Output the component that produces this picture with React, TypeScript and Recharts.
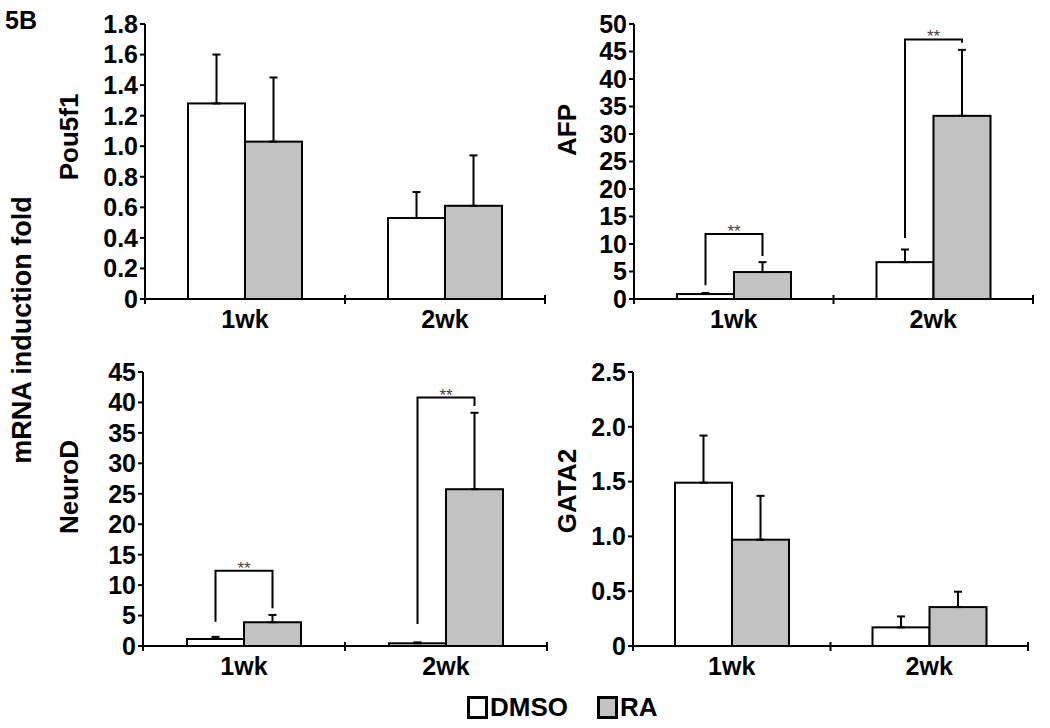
import React from 'react';
import { BarChart, Bar, XAxis, YAxis, ErrorBar } from 'recharts';

const categories = ['1wk', '2wk'];

// Pou5f1
const pouDmso = [1.28, 0.53];
const pouDmsoErr = [0.32, 0.17];
const pouRa = [1.03, 0.61];
const pouRaErr = [0.42, 0.33];
const pouTicks = [0, 0.2, 0.4, 0.6, 0.8, 1.0, 1.2, 1.4, 1.6, 1.8];

// AFP
const afpDmso = [0.9, 6.7];
const afpDmsoErr = [0.2, 2.3];
const afpRa = [4.9, 33.3];
const afpRaErr = [1.8, 12.0];
const afpTicks = [0, 5, 10, 15, 20, 25, 30, 35, 40, 45, 50];
// [bracket top, left leg bottom, right leg bottom]
const afpBrackets = [[11.8, 2.5, 7.8], [47.2, 11.1, 46.6]];

// NeuroD
const neuDmso = [1.15, 0.44];
const neuDmsoErr = [0.35, 0.16];
const neuRa = [3.9, 25.75];
const neuRaErr = [1.2, 12.55];
const neuTicks = [0, 5, 10, 15, 20, 25, 30, 35, 40, 45];
const neuBrackets = [[12.35, 4.0, 6.2], [40.8, 3.6, 39.4]];

// GATA2
const gataDmso = [1.49, 0.17];
const gataDmsoErr = [0.43, 0.10];
const gataRa = [0.97, 0.355];
const gataRaErr = [0.40, 0.14];
const gataTicks = [0, 0.5, 1.0, 1.5, 2.0, 2.5];

// category boundaries, where the x axis carries its tick marks
const edgeTicks = [0, 1, 2];

const FONT = '"Liberation Sans", Arial, sans-serif';
const tickStyle = { fill: '#000', fontSize: 25, fontWeight: 700, fontFamily: FONT };

const buildRows = (
  dmso: number[], dmsoErr: number[], ra: number[], raErr: number[], brackets?: number[][]
) =>
  categories.map((cat, i) => ({
    cat,
    edge: i + 0.5,
    dmso: dmso[i],
    dmsoErr: [0, dmsoErr[i]],
    ra: ra[i],
    raErr: [0, raErr[i]],
    bracket: brackets ? brackets[i] : null,
  }));

// RA bar plus the significance bracket spanning to the DMSO bar next to it
const RaShape = (props: any) => {
  const { x, y, width, height, payload } = props;
  const b = payload.bracket;
  let bracket = null;
  if (b && payload.ra > 0) {
    const zero = y + height;
    const k = height / payload.ra;
    const yv = (v: number) => zero - v * k;
    const lx = x - width / 2;
    const rx = x + width / 2;
    bracket = (
      <g>
        <polyline
          points={`${lx},${yv(b[1])} ${lx},${yv(b[0])} ${rx},${yv(b[0])} ${rx},${yv(b[2])}`}
          fill="none"
          stroke="#000"
          strokeWidth={2}
        />
        <text
          x={(lx + rx) / 2}
          y={yv(b[0]) + 3}
          textAnchor="middle"
          fontSize={17}
          fontFamily={FONT}
          fill="#444"
        >
          **
        </text>
      </g>
    );
  }
  return (
    <g>
      <rect x={x} y={y} width={width} height={height} fill="#c2c2c2" stroke="#000" strokeWidth={2} />
      {bracket}
    </g>
  );
};

const DmsoShape = (props: any) => {
  const { x, y, width, height } = props;
  return <rect x={x} y={y} width={width} height={height} fill="#fff" stroke="#000" strokeWidth={2} />;
};

// tick mark crossing the axis line
const EdgeTick = (props: any) => (
  <line x1={props.x} x2={props.x} y1={props.y - 5} y2={props.y + 4} stroke="#000" strokeWidth={2} />
);

interface PanelProps {
  rows: any[];
  ticks: number[];
  decimals: boolean;
  left: number;
  top: number;
  width: number;
  height: number;
  yAxisWidth: number;
  margin: { top: number; right: number; bottom: number };
}

const Panel: React.FC<PanelProps> = ({ rows, ticks, decimals, left, top, width, height, yAxisWidth, margin }) => {
  const fmt = (v: number) => (v === 0 ? '0' : decimals ? v.toFixed(1) : String(v));
  return (
    <div style={{ position: 'absolute', left, top }}>
      <BarChart
        width={width}
        height={height}
        data={rows}
        barGap={0}
        barSize={57}
        margin={{ top: margin.top, right: margin.right, bottom: margin.bottom - 2, left: 0 }}
      >
        <XAxis
          dataKey="cat"
          height={1}
          axisLine={{ stroke: '#000', strokeWidth: 2 }}
          tickLine={false}
          tickSize={0}
          tickMargin={11}
          tick={tickStyle}
        />
        <XAxis
          xAxisId="edge"
          dataKey="edge"
          type="number"
          domain={[0, 2]}
          ticks={edgeTicks}
          interval={0}
          height={1}
          tick={EdgeTick}
          tickSize={0}
          tickMargin={0}
          axisLine={false}
          tickLine={false}
        />
        <YAxis
          width={yAxisWidth}
          domain={[0, ticks[ticks.length - 1]]}
          ticks={ticks}
          interval={0}
          tickFormatter={fmt}
          tick={tickStyle}
          tickSize={5}
          tickMargin={2}
          axisLine={{ stroke: '#000', strokeWidth: 2 }}
          tickLine={{ stroke: '#000', strokeWidth: 2 }}
        />
        <Bar dataKey="dmso" shape={DmsoShape} isAnimationActive={false}>
          <ErrorBar dataKey="dmsoErr" width={4} stroke="#000" strokeWidth={2} />
        </Bar>
        <Bar dataKey="ra" shape={RaShape} isAnimationActive={false}>
          <ErrorBar dataKey="raErr" width={4} stroke="#000" strokeWidth={2} />
        </Bar>
      </BarChart>
    </div>
  );
};

const Rotated: React.FC<{ x: number; y: number; size: number; children: React.ReactNode }> = ({ x, y, size, children }) => (
  <div
    style={{
      position: 'absolute',
      left: x,
      top: y,
      transform: 'translate(-50%, -50%) rotate(-90deg)',
      whiteSpace: 'nowrap',
      fontSize: size,
      fontWeight: 700,
      lineHeight: 1,
    }}
  >
    {children}
  </div>
);

const LegendItem: React.FC<{ x: number; fill: string; label: string }> = ({ x, fill, label }) => (
  <div style={{ position: 'absolute', left: x, top: 694, display: 'flex', alignItems: 'center' }}>
    <div style={{ width: 15, height: 17, border: '3px solid #000', background: fill }} />
    <span style={{ fontSize: 26, fontWeight: 700, lineHeight: 1, marginLeft: 2 }}>{label}</span>
  </div>
);

export default function App() {
  return (
    <div
      style={{
        position: 'absolute',
        left: 0,
        top: 0,
        width: 1050,
        height: 728,
        background: '#fff',
        fontFamily: FONT,
        color: '#000',
        overflow: 'hidden',
      }}
    >
      <div style={{ position: 'absolute', left: 5, top: 8, fontSize: 25, fontWeight: 700, lineHeight: 1 }}>5B</div>
      <Rotated x={22} y={330} size={27}>mRNA induction fold</Rotated>

      <Rotated x={69} y={137} size={26}>Pou5f1</Rotated>
      <Rotated x={567} y={130} size={26}>AFP</Rotated>
      <Rotated x={69} y={487} size={26}>NeuroD</Rotated>
      <Rotated x={567} y={491} size={26}>GATA2</Rotated>

      <Panel
        rows={buildRows(pouDmso, pouDmsoErr, pouRa, pouRaErr)}
        ticks={pouTicks}
        decimals
        left={0}
        top={0}
        width={560}
        height={340}
        yAxisWidth={145}
        margin={{ top: 24, right: 15, bottom: 41 }}
      />
      <Panel
        rows={buildRows(afpDmso, afpDmsoErr, afpRa, afpRaErr, afpBrackets)}
        ticks={afpTicks}
        decimals={false}
        left={560}
        top={0}
        width={485}
        height={340}
        yAxisWidth={74}
        margin={{ top: 24, right: 12, bottom: 41 }}
      />
      <Panel
        rows={buildRows(neuDmso, neuDmsoErr, neuRa, neuRaErr, neuBrackets)}
        ticks={neuTicks}
        decimals={false}
        left={0}
        top={340}
        width={560}
        height={340}
        yAxisWidth={143}
        margin={{ top: 32, right: 13, bottom: 34 }}
      />
      <Panel
        rows={buildRows(gataDmso, gataDmsoErr, gataRa, gataRaErr)}
        ticks={gataTicks}
        decimals
        left={560}
        top={340}
        width={480}
        height={340}
        yAxisWidth={73}
        margin={{ top: 32, right: 12, bottom: 34 }}
      />

      <LegendItem x={467} fill="#fff" label="DMSO" />
      <LegendItem x={597} fill="#c2c2c2" label="RA" />
    </div>
  );
}
